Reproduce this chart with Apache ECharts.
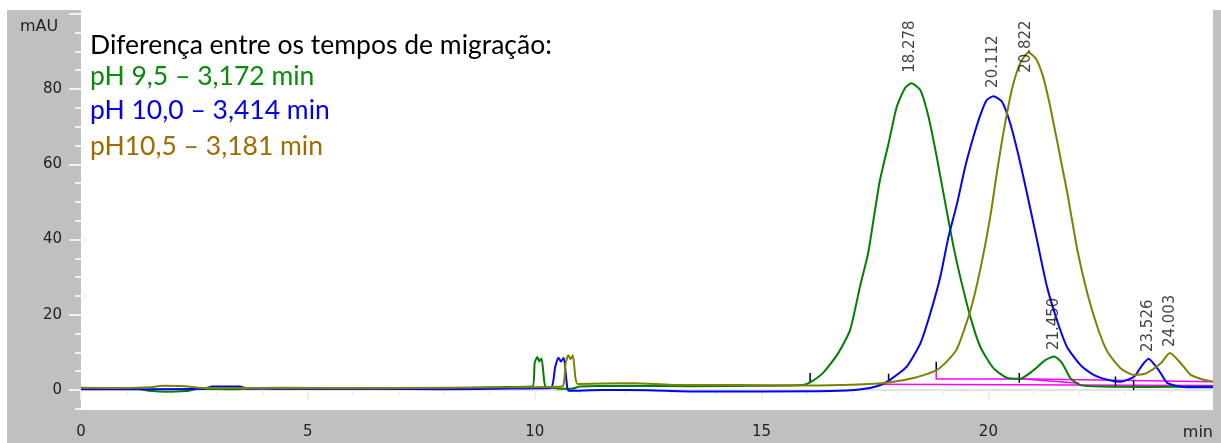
<!DOCTYPE html>
<html>
<head>
<meta charset="utf-8">
<script src="https://cdn.jsdelivr.net/npm/echarts@6/dist/echarts.min.js"></script>
<style>
  html, body { margin: 0; padding: 0; background: #fff; }
  #main { width: 1221px; height: 443px; }
</style>
</head>
<body>
<div id="main"></div>
<script>
// eletroferogramas - tempo (min) x absorbância (mAU)
var greenTrace = [
  [0,0.4],[0.6,0.3],[1.2,0.4],[1.5,-0.2],[1.9,-0.5],[2.3,-0.3],[2.6,0.3],[3.3,0.2],[4,0.5],[4.4,0.3],
  [5.5,0.3],[7,0.4],[8.5,0.5],[9.4,0.8],[9.95,0.9],[10.0,7.2],[10.06,8.8],[10.1,7.6],[10.15,8.4],[10.2,3.5],
  [10.24,0.9],[10.5,0.4],[10.8,0.3],[11.0,0.9],[12,1.1],[13.5,1.0],[15,1.1],[15.9,1.3],[16.07,2.0],[16.36,4.6],
  [16.69,9.8],[16.95,15.9],[17.17,27.5],[17.35,36.4],[17.5,47.8],[17.61,55.8],[17.8,65.6],[17.98,75.3],[18.16,80.2],[18.3,81.5],
  [18.5,79.7],[18.68,72.6],[18.86,62],[19.05,49.6],[19.23,38.1],[19.38,30],[19.6,19.5],[19.82,11.5],[20.11,5.8],[20.4,3.3],
  [20.7,3.0],[21.0,5.3],[21.26,8.0],[21.45,8.9],[21.62,7.2],[21.81,3.1],[22.03,1.3],[22.5,0.9],[23.5,0.8],[24.95,0.9]
];
var blueTrace = [
  [0,0.2],[1.5,0.2],[2.7,0.3],[2.9,0.9],[3.5,0.9],[3.65,0.4],[5,0.3],[6.5,0.3],[8,0.2],[9.5,0.4],
  [10.35,0.5],[10.45,6],[10.52,8.6],[10.58,7.6],[10.64,8.6],[10.7,2.5],[10.75,-0.2],[11.5,0],[12.5,-0.1],[13.5,-0.4],
  [15,-0.4],[16.5,-0.3],[17.2,0.2],[17.6,1.2],[17.83,2.7],[18.2,6.2],[18.5,12.4],[18.72,20.4],[18.94,30.1],[19.12,40.7],
  [19.31,49.6],[19.49,59.4],[19.67,67.3],[19.82,73],[19.96,77],[20.11,78.1],[20.3,76.6],[20.48,70.9],[20.67,62],[20.85,52.3],
  [21.07,39.9],[21.29,27.5],[21.51,18.6],[21.73,11.5],[22.03,6.6],[22.32,4.0],[22.62,2.7],[22.91,2.2],[23.21,3.5],[23.39,6.6],
  [23.53,8.3],[23.72,5.8],[23.8,4.4],[23.95,1.8],[24.3,0.8],[24.95,0.7]
];
var oliveTrace = [
  [0,0.6],[1,0.5],[1.5,0.7],[1.8,1.1],[2.3,1.0],[2.6,0.6],[3.2,0.5],[4.5,0.6],[6,0.5],[8,0.6],
  [9.5,0.7],[10.6,0.9],[10.68,7],[10.74,9.2],[10.79,8.2],[10.84,9.2],[10.9,3],[10.95,1.6],[11.5,1.7],[12.2,1.8],
  [13,1.4],[14.5,1.3],[16,1.2],[17,1.4],[17.8,2.0],[18.4,3.3],[18.86,5.3],[19.1,7.8],[19.31,11],[19.6,21],
  [19.82,32],[20.04,46],[20.19,58],[20.34,69],[20.52,80],[20.7,86.8],[20.88,89.7],[21.05,88],[21.2,83.5],[21.35,76],
  [21.51,66.4],[21.74,52.3],[21.96,37.2],[22.18,25.7],[22.4,16.8],[22.62,10.2],[22.91,5.8],[23.21,4.0],[23.47,4.4],[23.8,7.1],
  [24.0,9.8],[24.24,7.1],[24.46,4.0],[24.75,2.7],[24.95,2.2]
];
// linhas de base da integração (magenta)
var baseline1 = [[18.85,5.2],[18.85,2.9],[21.0,2.9],[21.0,2.4],[24.95,2.2]];
var baseline2 = [[17.55,1.5],[24.95,1.2]];
var baseline3 = [[20.7,3.0],[22.0,1.8]];
// marcas de início/fim de pico: [tempo, y inferior, y superior]
var peakMarks = [[16.07,2.1,4.5],[17.8,2.7,4.3],[18.85,5.3,7.5],[20.68,1.9,4.5],[22.8,1.0,3.6],[23.2,0.0,2.7]];

// tempos de migração e altura da base do rótulo
var peakTimes = ['18.278','20.112','20.822','21.450','23.526','24.003'];
var peakLabelY = [84.3, 80.3, 84.3, 10.6, 10.1, 11.4];

// eixos
var xMajor = [0,5,10,15,20];
var xMinor = [1,2,3,4,6,7,8,9,11,12,13,14,16,17,18,19,21,22,23,24];
var yMajor = [0,20,40,60,80,100];
var yLabels = [0,20,40,60,80];
var yMinor = [-5,5,10,15,25,30,35,45,50,55,65,70,75,85,90,95];

var notes = [
  { text: 'Diferença entre os tempos de migração:', color: '#000000' },
  { text: 'pH 9,5 – 3,172 min', color: '#0a8a0a' },
  { text: 'pH 10,0 – 3,414 min', color: '#0000ee' },
  { text: 'pH10,5 – 3,181 min', color: '#a06a00' }
];
var noteY = [45, 76, 110, 146];

var chart = echarts.init(document.getElementById('main'));

var tickStyle = { color: '#f0f0f0', width: 2 };
var labelFont = { fontFamily: 'DejaVu Sans', fontSize: 15, color: '#222' };

var graphics = [
  { type: 'rect', shape: { x: 0, y: 0, width: 1221, height: 10 }, style: { fill: '#fff' }, z: -1 },
  { type: 'rect', shape: { x: 0, y: 0, width: 7, height: 443 }, style: { fill: '#fff' }, z: -1 },
  { type: 'text', x: 20, y: 27, style: { text: 'mAU', font: '16px "DejaVu Sans"', fill: '#222', textVerticalAlign: 'middle' } },
  { type: 'text', x: 1213, y: 433, style: { text: 'min', font: '16px "DejaVu Sans"', fill: '#222', textAlign: 'right', textVerticalAlign: 'middle' } }
];
notes.forEach(function (n, i) {
  graphics.push({
    type: 'text', x: 90, y: noteY[i], z: 10,
    style: { text: n.text, font: '26.5px Lato', fill: n.color, textVerticalAlign: 'middle' }
  });
});

function trace(data, color) {
  return {
    type: 'line', data: data, showSymbol: false, symbol: 'none', smooth: 0.2,
    lineStyle: { color: color, width: 2 }, z: 3
  };
}
function base(data, color, width) {
  return {
    type: 'line', data: data, showSymbol: false, symbol: 'none',
    lineStyle: { color: color, width: width }, z: 2
  };
}

var series = [
  base(baseline1, '#ff00ff', 1.5),
  base(baseline2, '#ff00ff', 1.5),
  base(baseline3, '#ff00ff', 1.5),
  trace(greenTrace, '#008000'),
  trace(blueTrace, '#0000ff'),
  trace(oliveTrace, '#808000')
];
peakMarks.forEach(function (m) {
  series.push(base([[m[0], m[1]], [m[0], m[2]]], '#000', 1.5));
});
series.push({
  type: 'scatter', symbolSize: 0, z: 5,
  data: peakTimes.map(function (t, i) { return [parseFloat(t), peakLabelY[i]]; }),
  label: {
    show: true, position: [0, 0], rotate: 90, align: 'left', verticalAlign: 'middle',
    fontFamily: 'DejaVu Sans', fontSize: 15, color: '#111',
    formatter: function (p) { return peakTimes[p.dataIndex]; }
  }
});

var option = {
  animation: false,
  backgroundColor: '#c0c0c0',
  graphic: graphics,
  grid: { left: 81, right: 8, top: 10, bottom: 33, show: true, backgroundColor: '#ffffff', borderWidth: 0 },
  xAxis: [
    {
      type: 'value', min: 0, max: 24.95, position: 'bottom',
      axisLine: { show: true, lineStyle: { color: '#e4e4e4', width: 2 } },
      axisTick: { show: true, customValues: xMajor, length: 10, lineStyle: tickStyle },
      axisLabel: Object.assign({ customValues: xMajor, margin: 15 }, labelFont),
      splitLine: { show: false }
    },
    {
      type: 'value', min: 0, max: 24.95, position: 'bottom',
      axisLine: { show: false },
      axisTick: { show: true, customValues: xMinor, length: 5, lineStyle: tickStyle },
      axisLabel: { show: false },
      splitLine: { show: false }
    }
  ],
  yAxis: [
    {
      type: 'value', min: -5.32, max: 101, position: 'left',
      axisLine: { show: false },
      axisTick: { show: true, customValues: yMajor, length: 12, lineStyle: tickStyle },
      axisLabel: Object.assign({ customValues: yLabels, margin: 19 }, labelFont),
      splitLine: { show: false }
    },
    {
      type: 'value', min: -5.32, max: 101, position: 'left',
      axisLine: { show: false },
      axisTick: { show: true, customValues: yMinor, length: 6, lineStyle: tickStyle },
      axisLabel: { show: false },
      splitLine: { show: false }
    }
  ],
  series: series
};
chart.setOption(option);
</script>
</body>
</html>
